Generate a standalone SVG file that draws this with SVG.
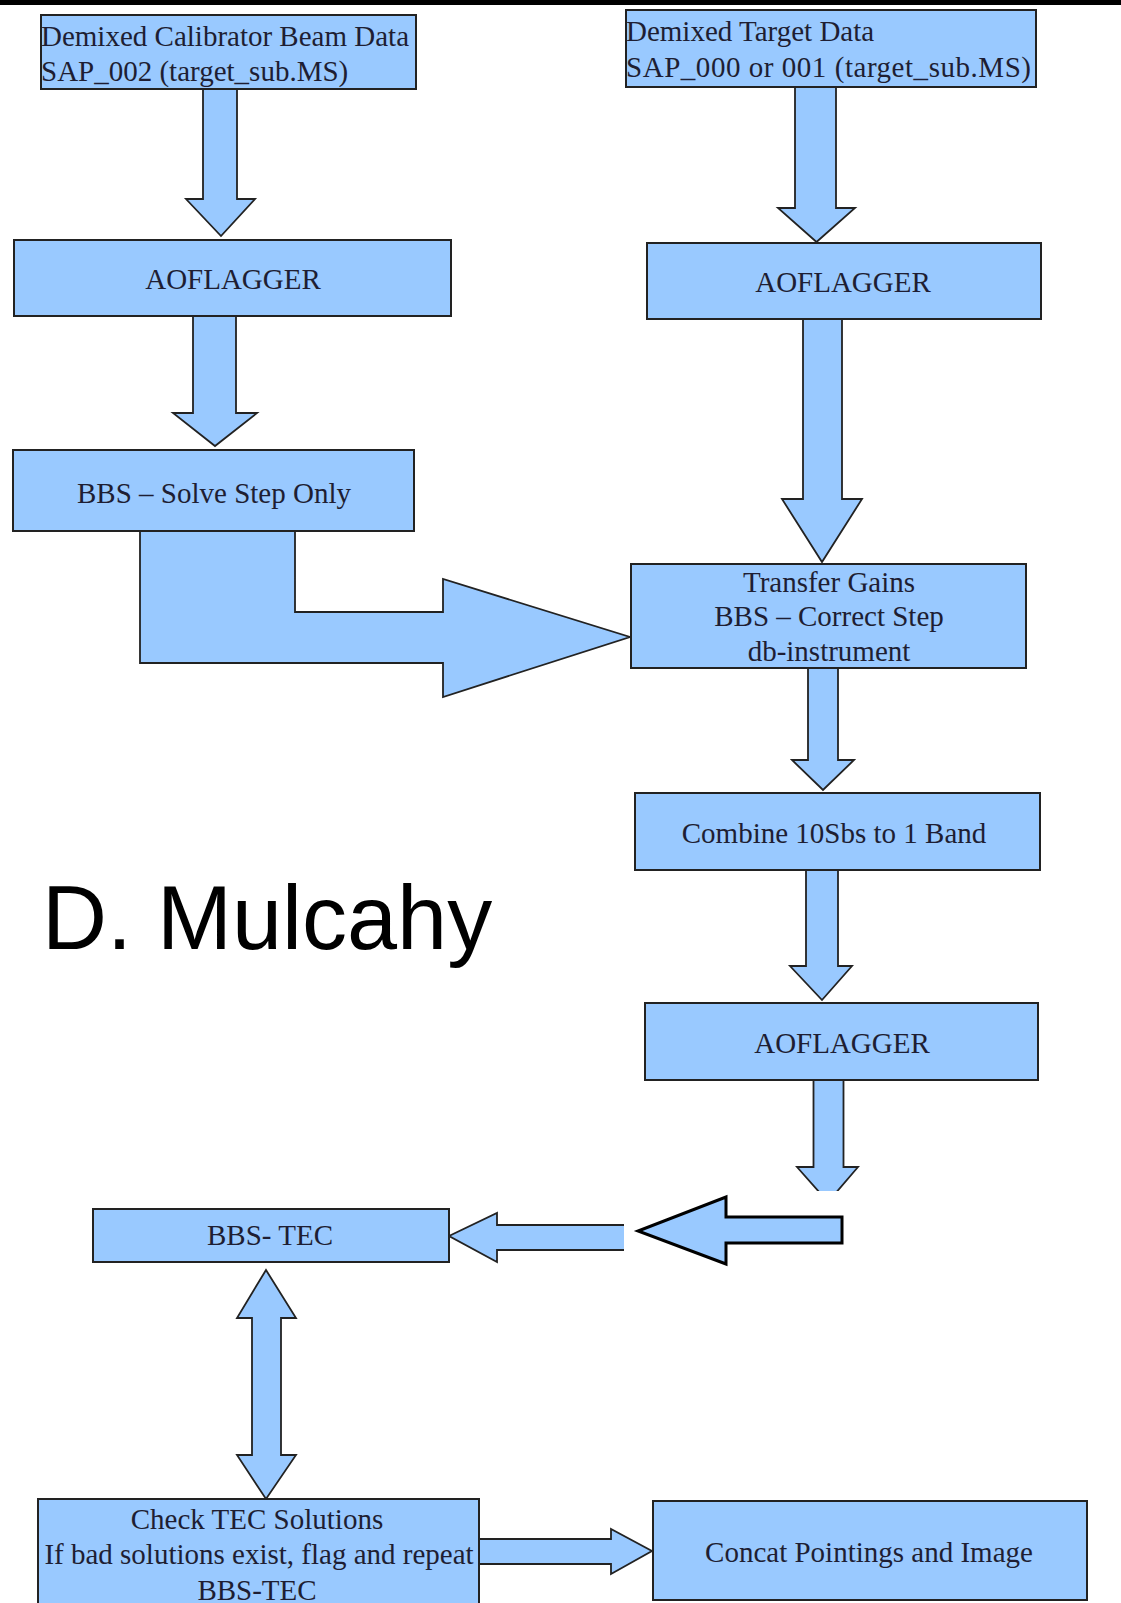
<svg xmlns="http://www.w3.org/2000/svg" width="1121" height="1603" viewBox="0 0 1121 1603">
<style>
.box{fill:#99c9ff;stroke:#222;stroke-width:2}
.arr{fill:#99c9ff;stroke:#222;stroke-width:1.8;stroke-linejoin:miter}
.t{font-family:"Liberation Serif","Times New Roman",serif;font-size:29px;fill:#1e1e33}
.c{text-anchor:middle}
</style>
<defs>
<clipPath id="clipDown"><rect x="0" y="1075" width="1121" height="116"/></clipPath>
<clipPath id="clipLeft"><rect x="430" y="1190" width="194" height="90"/></clipPath>
</defs>
<rect x="0" y="0" width="1121" height="5" fill="#000"/>
<g id="connectors">
<polygon class="arr" points="203,89 237,89 237,199 255,199 221,236 186,199 203,199"/>
<polygon class="arr" points="193,316 236,316 236,413 257,413 215,446 173,413 193,413"/>
<polygon class="arr" points="795,87 836,87 836,208 855,208 816.5,242 778,208 795,208"/>
<polygon class="arr" points="803,319 842,319 842,499 862,499 822,562 782,499 803,499"/>
<polygon class="arr" points="140,531 295,531 295,612 443,612 443,579 630,637 443,697 443,663 140,663"/>
<polygon class="arr" points="808,668 838,668 838,760 854,760 823,790 792,760 808,760"/>
<polygon class="arr" points="806,870 838,870 838,966 852,966 822,1000 790,966 806,966"/>
<g clip-path="url(#clipDown)"><polygon class="arr" points="813.5,1080 843.5,1080 843.5,1167 858,1167 828,1202 797,1167 813.5,1167"/></g>
<polygon fill="#99c9ff" stroke="#000" stroke-width="3" points="842,1217 842,1243 726,1243 726,1264 638,1231 726,1197 726,1217"/>
<g clip-path="url(#clipLeft)"><polygon class="arr" points="630,1225 497,1225 497,1213 449,1236 497,1262 497,1250 630,1250"/></g>
<polygon class="arr" points="266,1270 296,1318 281,1318 281,1455 296,1455 266,1499 237,1455 252,1455 252,1318 237,1318"/>
<polygon class="arr" points="479,1539 611,1539 611,1529 652,1551 611,1574 611,1564 479,1564"/>
</g>
<g id="n1"><rect class="box" x="41" y="15" width="375" height="74"/>
<text class="t" x="41" y="46">Demixed Calibrator Beam Data</text>
<text class="t" x="41" y="81">SAP_002 (target_sub.MS)</text></g>
<g id="n2"><rect class="box" x="626" y="10" width="410" height="77"/>
<text class="t" x="626" y="41">Demixed Target Data</text>
<text class="t" x="626" y="77" textLength="405" lengthAdjust="spacing">SAP_000 or 001 (target_sub.MS)</text></g>
<g id="n3"><rect class="box" x="14" y="240" width="437" height="76"/>
<text class="t c" x="233" y="289">AOFLAGGER</text></g>
<g id="n4"><rect class="box" x="647" y="243" width="394" height="76"/>
<text class="t c" x="843" y="292">AOFLAGGER</text></g>
<g id="n5"><rect class="box" x="13" y="450" width="401" height="81"/>
<text class="t c" x="214" y="503">BBS – Solve Step Only</text></g>
<g id="n6"><rect class="box" x="631" y="564" width="395" height="104"/>
<text class="t c" x="829" y="592">Transfer Gains</text>
<text class="t c" x="829" y="626">BBS – Correct Step</text>
<text class="t c" x="829" y="661">db-instrument</text></g>
<g id="n7"><rect class="box" x="635" y="793" width="405" height="77"/>
<text class="t c" x="834" y="843">Combine 10Sbs to 1 Band</text></g>
<g id="n8"><rect class="box" x="645" y="1003" width="393" height="77"/>
<text class="t c" x="842" y="1053">AOFLAGGER</text></g>
<g id="n9"><rect class="box" x="93" y="1209" width="356" height="53"/>
<text class="t c" x="270" y="1245">BBS- TEC</text></g>
<g id="n10"><rect class="box" x="38" y="1499" width="441" height="115"/>
<text class="t c" x="257" y="1529">Check TEC Solutions</text>
<text class="t c" x="259" y="1564">If bad solutions exist, flag and repeat</text>
<text class="t c" x="257" y="1600">BBS-TEC</text></g>
<g id="n11"><rect class="box" x="653" y="1501" width="434" height="99"/>
<text class="t c" x="869" y="1562">Concat Pointings and Image</text></g>
<text x="42" y="949" font-family="Liberation Sans, Arial, sans-serif" font-size="90" fill="#000">D. Mulcahy</text>
</svg>
